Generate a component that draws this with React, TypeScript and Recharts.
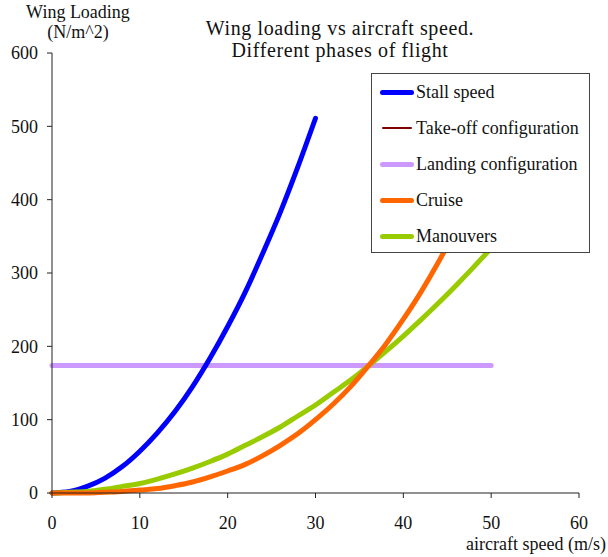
import React from 'react';
import { LineChart, Line, XAxis, YAxis } from 'recharts';

// speed grid (m/s) used by the curved series
const speeds = [0, 2, 4, 6, 8, 10, 12, 14, 16, 18, 20, 22, 24, 26, 28, 30, 32, 34, 36, 38, 40, 42, 44, 46, 48, 50];

// wing loading values (N/m^2)
const stallLoad = [0, 2, 9, 20, 36, 57, 82, 111, 145, 184, 227, 274, 327, 383, 445, 511];
const cruiseLoad = [0, 0, 0, 1, 2, 4, 6, 10, 15, 22, 30, 39, 51, 65, 81, 100, 121, 145, 173, 203, 237, 274, 315, 360, 409, 462];
const manouverLoad = [0, 1, 2, 5, 9, 13, 19, 26, 34, 43, 53, 65, 77, 90, 105, 120, 137, 154, 173, 193, 214, 236, 259, 283, 308, 334];

const flatSpeeds = [0, 50];
const takeoffLoad = [174, 174];
const landingLoad = [174, 174];

const xTicks = [0, 10, 20, 30, 40, 50, 60];
const yTicks = [0, 100, 200, 300, 400, 500, 600];

const FONT = '"Liberation Serif", "Times New Roman", serif';

const toPoints = (xs: number[], ys: number[]) => ys.map((y, i) => ({ x: xs[i], y }));

const series = [
  { name: 'Stall speed', color: '#0000FF', width: 5, data: toPoints(speeds, stallLoad) },
  { name: 'Take-off configuration', color: '#800000', width: 2, data: toPoints(flatSpeeds, takeoffLoad) },
  { name: 'Landing configuration', color: '#CC99FF', width: 5, data: toPoints(flatSpeeds, landingLoad) },
  { name: 'Cruise', color: '#FF6600', width: 5, data: toPoints(speeds, cruiseLoad) },
  { name: 'Manouvers', color: '#99CC00', width: 5, data: toPoints(speeds, manouverLoad) },
];

// draw order: take-off hidden under landing
const drawOrder = [1, 2, 0, 4, 3];

const tickStyle = { fontFamily: FONT, fontSize: 18, fill: '#111' };

export default function App() {
  return (
    <div style={{ position: 'relative', width: 608, height: 557, background: '#fff', fontFamily: FONT }}>
      <style>{`body{margin:0}`}</style>
      <LineChart
        width={608}
        height={557}
        margin={{ top: 53, right: 29, left: 0, bottom: 0 }}
        style={{ fontFamily: FONT }}
      >
        <XAxis
          dataKey="x"
          type="number"
          domain={[0, 60]}
          ticks={xTicks}
          allowDuplicatedCategory={false}
          height={64}
          stroke="#222"
          tickSize={5}
          tickMargin={18}
          tick={tickStyle}
        />
        <YAxis
          dataKey="y"
          type="number"
          domain={[0, 600]}
          ticks={yTicks}
          width={52}
          stroke="#222"
          tickSize={5}
          tickMargin={9}
          tick={tickStyle}
        />
        {drawOrder.map((i) => {
          const s = series[i];
          return (
            <Line
              key={s.name}
              data={s.data}
              dataKey="y"
              type="monotone"
              stroke={s.color}
              strokeWidth={s.width}
              strokeLinecap="round"
              dot={false}
              activeDot={false}
              isAnimationActive={false}
            />
          );
        })}
      </LineChart>

      {/* titles */}
      <div style={{ position: 'absolute', left: 180, top: 17, width: 320, textAlign: 'center', fontSize: 20, lineHeight: '22px', letterSpacing: 0.6, color: '#111' }}>
        Wing loading vs aircraft speed.
        <br />
        Different phases of flight
      </div>
      <div style={{ position: 'absolute', left: 13, top: 2, width: 130, textAlign: 'center', fontSize: 18, lineHeight: '20px', color: '#111' }}>
        Wing Loading
        <br />
        (N/m^2)
      </div>
      <div style={{ position: 'absolute', right: 2, top: 535, fontSize: 18, lineHeight: '18px', color: '#111', whiteSpace: 'nowrap' }}>
        aircraft speed (m/s)
      </div>

      {/* legend */}
      <div
        style={{
          position: 'absolute',
          left: 371,
          top: 73,
          width: 219,
          height: 180,
          background: '#fff',
          border: '1px solid #444',
          boxSizing: 'border-box',
          paddingTop: 0,
        }}
      >
        {series.map((s) => (
          <div key={s.name} style={{ display: 'flex', alignItems: 'center', height: 36 }}>
            <span
              style={{
                display: 'inline-block',
                marginLeft: s.width > 3 ? 8 : 10,
                width: s.width > 3 ? 34 : 30,
                height: s.width,
                borderRadius: s.width,
                background: s.color,
              }}
            />
            <span style={{ marginLeft: s.width > 3 ? 2 : 4, fontSize: 18, color: '#111', whiteSpace: 'nowrap' }}>{s.name}</span>
          </div>
        ))}
      </div>
    </div>
  );
}
